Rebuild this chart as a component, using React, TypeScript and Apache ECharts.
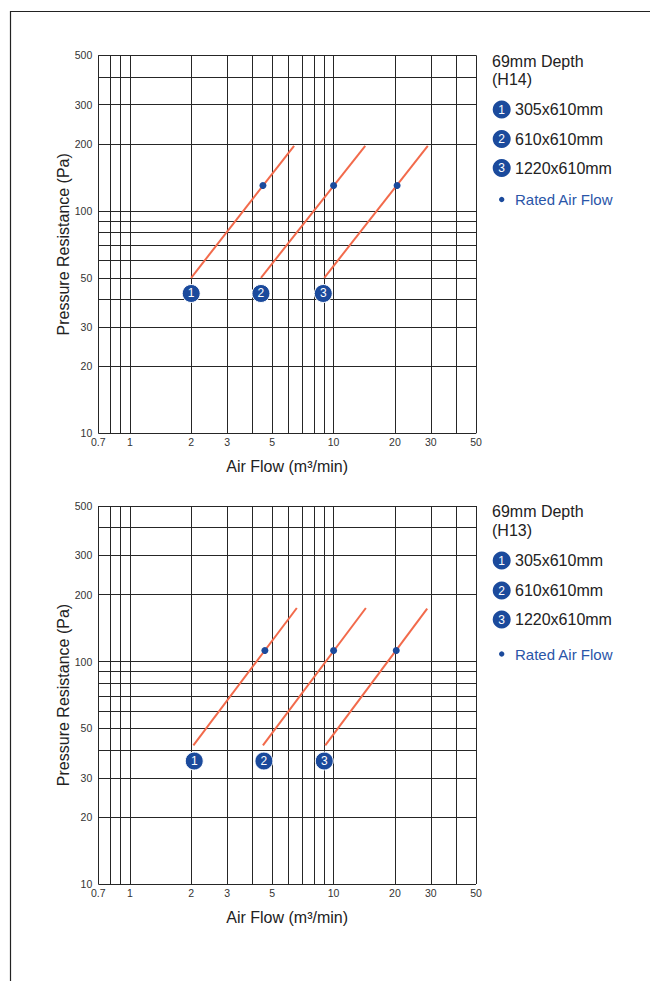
import React, { useEffect, useRef } from "react";
import * as echarts from "echarts";

// ---- Axis ticks / grid lines ----
const xTickLabels = [0.7, 1, 2, 3, 5, 10, 20, 30, 50];
const xGridLines = [0.7, 0.8, 0.9, 1, 2, 3, 4, 5, 6, 7, 8, 9, 10, 20, 30, 40, 50];
const yTickLabels = [10, 20, 30, 50, 100, 200, 300, 500];
const yGridLines = [10, 20, 30, 40, 50, 60, 70, 80, 90, 100, 200, 300, 400, 500];

// ---- Legend texts ----
const depthTitle = "69mm Depth";
const panelGrades = ["(H14)", "(H13)"];
const filterSizes = ["305x610mm", "610x610mm", "1220x610mm"];
const ratedLabel = "Rated Air Flow";

// ---- H14 panel data [airflow, pressure] ----
const h14Start = [[2, 50], [4.4, 50], [9, 50]];
const h14End = [[6.4, 196], [14.3, 196], [29, 196]];
const h14Rated = [[4.5, 130], [10, 130], [20.5, 130]];
const h14Badges = [[2, 42.5], [4.4, 42.5], [8.9, 42.5]];

// ---- H13 panel data [airflow, pressure] ----
const h13Start = [[2.05, 42], [4.5, 42], [9.1, 42]];
const h13End = [[6.6, 174], [14.4, 174], [28.8, 173]];
const h13Rated = [[4.6, 112], [10, 112], [20.3, 112]];
const h13Badges = [[2.07, 35.7], [4.55, 35.7], [9.0, 35.7]];

const FONT = "Liberation Sans, Arial, Helvetica, sans-serif";
const BLUE = "#1b4a9c";
const ORANGE = "#f26a4b";
const GRIDC = "#262626";
const TEXTC = "#222";

const panels = [
  { start: h14Start, end: h14End, rated: h14Rated, badges: h14Badges, top: 55.3,
    legendY: { t1: 62, t2: 80, rows: [109.5, 139, 168], rated: 199.5 } },
  { start: h13Start, end: h13End, rated: h13Rated, badges: h13Badges, top: 506,
    legendY: { t1: 512.5, t2: 531, rows: [560.5, 590.5, 619.5], rated: 654 } },
];

function gridMarkData() {
  return [
    ...xGridLines.map((v) => ({
      xAxis: v,
      label: {
        show: xTickLabels.includes(v),
        formatter: String(v),
        position: "start",
        distance: 3,
      },
    })),
    ...yGridLines.map((v) => ({
      yAxis: v,
      label: {
        show: yTickLabels.includes(v),
        formatter: String(v),
        position: "start",
        distance: 6,
      },
    })),
  ];
}

export default function App() {
  const ref = useRef<HTMLDivElement>(null);
  useEffect(() => {
    if (!ref.current) return;
    const chart = echarts.init(ref.current, null, { renderer: "svg" });

    const grids: any[] = [];
    const xAxes: any[] = [];
    const yAxes: any[] = [];
    const series: any[] = [];
    const graphics: any[] = [];

    panels.forEach((p, pi) => {
      grids.push({ left: 98.3, top: p.top, width: 377.7, height: 378 });
      xAxes.push({
        type: "log",
        logBase: 10,
        gridIndex: pi,
        min: 0.7,
        max: 50,
        axisLine: { show: false },
        axisTick: { show: false },
        axisLabel: { show: false },
        splitLine: { show: false },
        name: "Air Flow (m³/min)",
        nameLocation: "middle",
        nameGap: 25,
        nameTextStyle: { fontSize: 16, color: TEXTC, fontFamily: FONT },
      });
      yAxes.push({
        type: "log",
        logBase: 10,
        gridIndex: pi,
        min: 10,
        max: 500,
        axisLine: { show: false },
        axisTick: { show: false },
        axisLabel: { show: false },
        splitLine: { show: false },
        name: "Pressure Resistance (Pa)",
        nameLocation: "middle",
        nameGap: 27,
        nameTextStyle: { fontSize: 16, color: TEXTC, fontFamily: FONT },
      });

      // grid lines + tick labels via markLine
      series.push({
        type: "line",
        xAxisIndex: pi,
        yAxisIndex: pi,
        data: [],
        silent: true,
        z: 1,
        markLine: {
          z: 1,
          silent: true,
          symbol: ["none", "none"],
          animation: false,
          lineStyle: { color: GRIDC, width: 1, type: "solid", opacity: 1 },
          label: { color: "#333", fontSize: 10.5, fontFamily: FONT },
          emphasis: { disabled: true },
          data: gridMarkData(),
        },
      });

      // resistance lines
      p.start.forEach((s, i) => {
        series.push({
          type: "line",
          xAxisIndex: pi,
          yAxisIndex: pi,
          data: [s, p.end[i]],
          symbol: "none",
          silent: true,
          z: 10,
          lineStyle: { color: ORANGE, width: 2 },
        });
      });

      // rated air flow points
      series.push({
        type: "scatter",
        xAxisIndex: pi,
        yAxisIndex: pi,
        data: p.rated,
        symbol: "circle",
        symbolSize: 7,
        silent: true,
        z: 11,
        itemStyle: { color: BLUE, opacity: 1 },
      });

      // numbered badges
      series.push({
        type: "scatter",
        xAxisIndex: pi,
        yAxisIndex: pi,
        data: p.badges,
        symbol: "circle",
        symbolSize: 18,
        silent: true,
        z: 12,
        itemStyle: { color: BLUE, borderColor: "#fff", borderWidth: 1, opacity: 1 },
        label: {
          show: true,
          position: "inside",
          formatter: (d: any) => String(d.dataIndex + 1),
          color: "#fff",
          fontSize: 12,
          fontFamily: FONT,
        },
      });

      // legend
      const L = p.legendY;
      const lx = 492;
      graphics.push({
        type: "text",
        left: lx,
        top: L.t1 - 9,
        style: { text: depthTitle, fontSize: 16, fill: TEXTC, fontFamily: FONT },
      });
      graphics.push({
        type: "text",
        left: lx,
        top: L.t2 - 9,
        style: { text: panelGrades[pi], fontSize: 16, fill: TEXTC, fontFamily: FONT },
      });
      filterSizes.forEach((txt, i) => {
        graphics.push({
          type: "circle",
          shape: { cx: 501.7, cy: L.rows[i], r: 9 },
          style: { fill: BLUE },
        });
        graphics.push({
          type: "text",
          x: 501.7,
          y: L.rows[i],
          style: {
            text: String(i + 1),
            fontSize: 12,
            fill: "#fff",
            fontFamily: FONT,
            align: "center",
            verticalAlign: "middle",
          },
        });
        graphics.push({
          type: "text",
          x: 515,
          y: L.rows[i],
          style: {
            text: txt,
            fontSize: 16,
            fill: TEXTC,
            fontFamily: FONT,
            verticalAlign: "middle",
          },
        });
      });
      graphics.push({
        type: "circle",
        shape: { cx: 501.7, cy: L.rated, r: 2.7 },
        style: { fill: BLUE },
      });
      graphics.push({
        type: "text",
        x: 515,
        y: L.rated,
        style: {
          text: ratedLabel,
          fontSize: 15,
          fill: "#2a55a8",
          fontFamily: FONT,
          verticalAlign: "middle",
        },
      });
    });

    // page frame
    graphics.push({
      type: "polyline",
      shape: { points: [[10.5, 981], [10.5, 11.5], [650, 11.5]] },
      style: { stroke: "#222", lineWidth: 1.2, fill: "none" },
      silent: true,
    });

    chart.setOption({
      animation: false,
      backgroundColor: "#fff",
      grid: grids,
      xAxis: xAxes,
      yAxis: yAxes,
      series,
      graphic: graphics,
    });
    return () => chart.dispose();
  }, []);

  return (
    <div
      ref={ref}
      style={{ position: "absolute", left: 0, top: 0, width: 650, height: 981 }}
    />
  );
}
